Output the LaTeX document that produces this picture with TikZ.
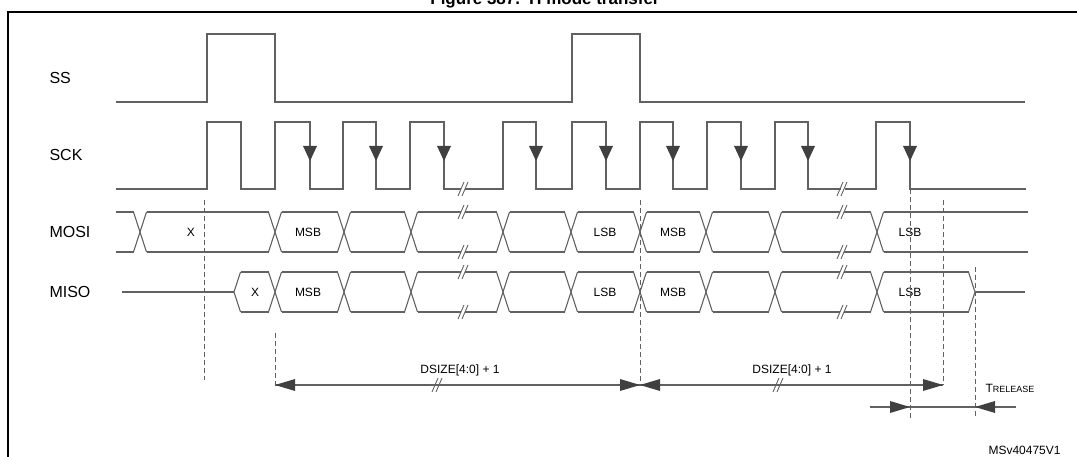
\documentclass[tikz,border=0pt]{standalone}
\usepackage{fontspec}
\setmainfont{Liberation Sans}
\begin{document}
\begin{tikzpicture}[x=1pt,y=-1pt,
  sig/.style={draw=black!62,line width=1.1pt},
  dashln/.style={draw=black!62,line width=0.9pt,dash pattern=on 5pt off 3pt},
  arr/.style={fill=black!75},
  sname/.style={font=\fontsize{16}{16}\selectfont,anchor=west},
  lbl/.style={font=\fontsize{12}{12}\selectfont},
  brk/.style={draw=black!62,line width=0.9pt}]
\useasboundingbox (0,0) rectangle (1077,457);
\begin{scope}
\clip (0,0) rectangle (1077,457);
\node[font=\bfseries\fontsize{17}{17}\selectfont,anchor=base] (title) at (545,5) {Figure 387. TI mode transfer};
\draw[line width=1.8pt] (8,470) -- (8,12) -- (1090,12);
\end{scope}
% names
\node[sname] (nss) at (46,78) {SS};
\node[sname] (nsck) at (46,155) {SCK};
\node[sname] (nmosi) at (46,232) {MOSI};
\node[sname] (nmiso) at (46,292) {MISO};
% SS
\draw[sig] (116,102) -- (207,102) -- (207,34) -- (275,34) -- (275,102) -- (572,102) -- (572,34) -- (640,34) -- (640,102) -- (1025,102);
% SCK
\draw[sig] (116,189) -- (207,189) -- (207,122) -- (241,122) -- (241,189) -- (275,189) -- (275,122) -- (310,122) -- (310,189) -- (343,189) -- (343,122) -- (376,122) -- (376,189) -- (410,189) -- (410,122) -- (444,122) -- (444,189) -- (461,189);
\draw[sig] (465,189) -- (503,189) -- (503,122) -- (536,122) -- (536,189) -- (572,189) -- (572,122) -- (606,122) -- (606,189) -- (640,189) -- (640,122) -- (673,122) -- (673,189) -- (707,189) -- (707,122) -- (741,122) -- (741,189) -- (775,189) -- (775,122) -- (808,122) -- (808,189) -- (841,189);
\draw[sig] (845,189) -- (876,189) -- (876,122) -- (910,122) -- (910,189) -- (1026,189);
\foreach \x in {310,376,444,536,606,673,741,808,910}
  \fill[arr] (\x-7,146) -- (\x+7,146) -- (\x,161) -- cycle;
% MOSI bus
\def\h{6.5}
\foreach \c in {140,275,344,411,503,571,640,706,775,877} {
  \draw[sig] (\c-\h,212) -- (\c+\h,252);
  \draw[sig] (\c-\h,252) -- (\c+\h,212);
}
\foreach \a/\b in {116/133.5,146.5/268.5,281.5/337.5,350.5/404.5,417.5/461,465/496.5,509.5/564.5,577.5/633.5,646.5/699.5,712.5/768.5,781.5/840,844/870.5,883.5/1028} {
  \draw[sig] (\a,212) -- (\b,212);
  \draw[sig] (\a,252) -- (\b,252);
}
% MISO bus
\draw[sig] (122,292) -- (234,292);
\draw[sig] (240.5,272) -- (234,292) -- (240.5,312);
\foreach \c in {275,344,411,503,571,640,706,775,877} {
  \draw[sig] (\c-\h,272) -- (\c+\h,312);
  \draw[sig] (\c-\h,312) -- (\c+\h,272);
}
\foreach \a/\b in {240.5/268.5,281.5/337.5,350.5/404.5,417.5/461,465/496.5,509.5/564.5,577.5/633.5,646.5/699.5,712.5/768.5,781.5/840,844/870.5,883.5/968.5} {
  \draw[sig] (\a,272) -- (\b,272);
  \draw[sig] (\a,312) -- (\b,312);
}
\draw[sig] (968.5,272) -- (975,292) -- (968.5,312);
\draw[sig] (975,292) -- (1025,292);
% break marks
\foreach \x in {463,842} \foreach \y in {189,212,252,272,312} {
  \draw[brk] (\x-5,\y+7) -- (\x+1,\y-7);
  \draw[brk] (\x-1,\y+7) -- (\x+5,\y-7);
}
% data labels
\foreach \y in {232,292} {
  \node[lbl] at (308,\y) {MSB};
  \node[lbl] at (605,\y) {LSB};
  \node[lbl] at (673,\y) {MSB};
  \node[lbl] at (910,\y) {LSB};
}
\node[lbl] (xmosi) at (191,232) {X};
\node[lbl] (xmiso) at (255,292) {X};
% dashed lines
\draw[dashln] (204,200) -- (204,380);
\draw[dashln] (275,333) -- (275,385);
\draw[dashln] (640,200) -- (640,385);
\draw[dashln] (910,189) -- (910,420);
\draw[dashln] (943,200) -- (943,385);
\draw[dashln] (975,267) -- (975,418);
% dimension lines
\draw[sig] (275,385) -- (943,385);
\fill[arr] (275,385) -- (295,379) -- (295,391) -- cycle;
\fill[arr] (640,385) -- (620,379) -- (620,391) -- cycle;
\fill[arr] (640,385) -- (660,379) -- (660,391) -- cycle;
\fill[arr] (943,385) -- (923,379) -- (923,391) -- cycle;
\foreach \x in {437,778} {
  \draw[brk] (\x-5,392) -- (\x+1,378);
  \draw[brk] (\x-1,392) -- (\x+5,378);
}
\node[lbl] (d1) at (460,370) {DSIZE[4:0] + 1};
\node[lbl] (d2) at (792,370) {DSIZE[4:0] + 1};
\draw[sig] (870,407) -- (1016,407);
\fill[arr] (910,407) -- (890,401) -- (890,413) -- cycle;
\fill[arr] (975,407) -- (995,401) -- (995,413) -- cycle;
\node[font=\fontsize{12}{12}\selectfont,anchor=west] (trel) at (982,388) {T{\fontsize{9}{9}\selectfont RELEASE}};
\begin{scope}
\clip (0,0) rectangle (1077,457);
\node[lbl,anchor=base west] (ref) at (985,454) {MSv40475V1};
\end{scope}
\end{tikzpicture}
\end{document}
